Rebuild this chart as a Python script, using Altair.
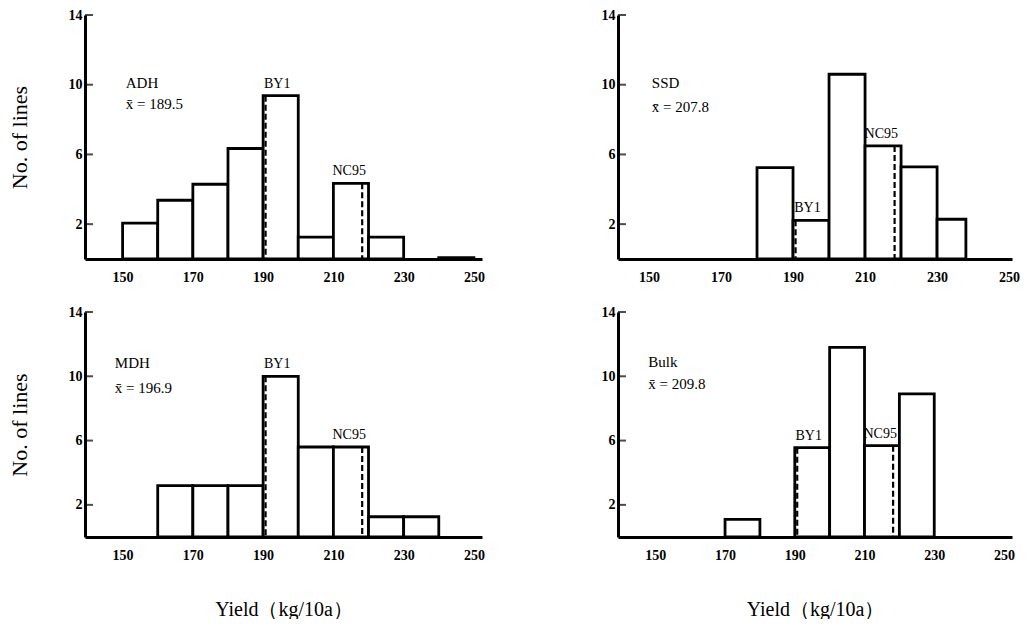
import altair as alt
import pandas as pd

FONT = "Liberation Serif"

# ---- data (number of lines per 10 kg/10a yield class) ----
ADH_LO = [150, 160, 170, 180, 190, 200, 210, 220, 240]
ADH_HI = [160, 170, 180, 190, 200, 210, 220, 230, 250]
ADH_N = [2.06, 3.37, 4.29, 6.34, 9.37, 1.26, 4.34, 1.26, 0.08]

SSD_LO = [180, 190, 200, 210, 220, 230]
SSD_HI = [190, 200, 210, 220, 230, 238]
SSD_N = [5.24, 2.22, 10.6, 6.49, 5.29, 2.28]

MDH_LO = [160, 170, 180, 190, 200, 210, 220, 230]
MDH_HI = [170, 180, 190, 200, 210, 220, 230, 240]
MDH_N = [3.2, 3.2, 3.2, 10.0, 5.6, 5.6, 1.26, 1.26]

BULK_LO = [170, 190, 200, 210, 220]
BULK_HI = [180, 200, 210, 220, 230]
BULK_N = [1.1, 5.56, 11.8, 5.68, 8.9]

PANEL_NAMES = ["ADH", "SSD", "MDH", "Bulk"]
PANEL_MEANS = ["189.5", "207.8", "196.9", "209.8"]
CHECK_NAMES = ["BY1", "NC95"]
CHECK_YIELD = [190.7, 218.2]
X_TICKS = [150, 170, 190, 210, 230, 250]
Y_TICKS = [2, 6, 10, 14]

# ---- layout settings (not data) ----
LAYOUT = {
    "ADH": dict(domain=[139.3, 252.3], width=397, height=244, nx=150.9, ny=(10.1, 8.9)),
    "SSD": dict(domain=[141.4, 250.8], width=394, height=244, nx=150.8, ny=(10.1, 8.7)),
    "MDH": dict(domain=[139.3, 252.3], width=397, height=225, nx=147.8, ny=(10.8, 9.3)),
    "Bulk": dict(domain=[139.3, 252.3], width=394, height=225, nx=148.0, ny=(10.9, 9.5)),
}
LABEL_X = [194.0, 214.5]


def panel(idx, lo, hi, n, ytitle, xtitle):
    name = PANEL_NAMES[idx]
    L = LAYOUT[name]
    bars_df = pd.DataFrame({"lo": lo, "hi": hi, "n": n, "base": 0})
    tops = []
    for yv in CHECK_YIELD:
        h = 0
        for a, b, c in zip(lo, hi, n):
            if a <= yv < b:
                h = c
        tops.append(h)
    chk = pd.DataFrame({"name": CHECK_NAMES, "x": CHECK_YIELD, "top": tops,
                        "base": 0, "lx": LABEL_X})

    xs = alt.Scale(domain=L["domain"], nice=False, zero=False)
    ys = alt.Scale(domain=[0, 14], nice=False)

    xkw = dict(values=X_TICKS, tickSize=0, labelPadding=11, labelFont=FONT,
               labelFontSize=14, labelFontWeight="bold", labelColor="black",
               domainWidth=3, domainColor="black", grid=False, labelFlush=False,
               labelOverlap=False, zindex=1)
    if xtitle:
        xkw.update(title="Yield（kg/10a）", titleFont=FONT, titleFontSize=20,
                   titleFontWeight="normal", titleColor="black", titlePadding=37)
    else:
        xkw.update(title=None)
    ykw = dict(values=Y_TICKS, tickSize=0, labelPadding=3, labelFont=FONT,
               labelFontSize=14, labelFontWeight="bold", labelColor="black",
               domainWidth=3, domainColor="black", grid=False, labelFlush=False,
               labelOverlap=False, zindex=1)
    if ytitle:
        ykw.update(title="No. of lines", titleFont=FONT, titleFontSize=22,
                   titleFontWeight="normal", titleColor="black", titlePadding=37)
    else:
        ykw.update(title=None)

    bars = alt.Chart(bars_df).mark_rect(fill="white", stroke="black", strokeWidth=2.8).encode(
        x=alt.X("lo:Q", scale=xs, axis=alt.Axis(**xkw)),
        x2="hi:Q",
        y=alt.Y("n:Q", scale=ys, axis=alt.Axis(**ykw)),
        y2="base:Q",
    )
    dashed = alt.Chart(chk).mark_rule(strokeDash=[6, 3], strokeWidth=2.2, color="black").encode(
        x="x:Q", y="top:Q", y2="base:Q"
    )
    labels = alt.Chart(chk).mark_text(font=FONT, fontSize=14, dy=-12, baseline="middle",
                                      color="black").encode(
        x="lx:Q", y="top:Q", text="name:N"
    )
    names_df = pd.DataFrame({"t": [name, "x\u0304 = " + PANEL_MEANS[idx]],
                             "x": [L["nx"], L["nx"]], "y": list(L["ny"])})
    names = alt.Chart(names_df).mark_text(font=FONT, fontSize=15, align="left",
                                          baseline="middle", color="black").encode(
        x="x:Q", y="y:Q", text="t:N"
    )
    ticks = alt.Chart(pd.DataFrame({"v": Y_TICKS})).mark_tick(
        orient="horizontal", size=8, thickness=2, xOffset=4, color="black"
    ).encode(y="v:Q", x=alt.datum(L["domain"][0]))

    return alt.layer(bars, dashed, labels, names, ticks).properties(
        width=L["width"], height=L["height"]
    )


tl = panel(0, ADH_LO, ADH_HI, ADH_N, True, False)
tr = panel(1, SSD_LO, SSD_HI, SSD_N, False, False)
bl = panel(2, MDH_LO, MDH_HI, MDH_N, True, True)
br = panel(3, BULK_LO, BULK_HI, BULK_N, False, True)

chart = alt.vconcat(
    alt.hconcat(tl, tr, spacing=116),
    alt.hconcat(bl, br, spacing=116),
    spacing=21,
).properties(
    padding={"left": 0, "top": 0, "right": 0, "bottom": 0},
    background="white",
).configure(font=FONT).configure_view(stroke=None, strokeWidth=0)

chart.save("out.html", embed_options={"renderer": "svg", "actions": False})
